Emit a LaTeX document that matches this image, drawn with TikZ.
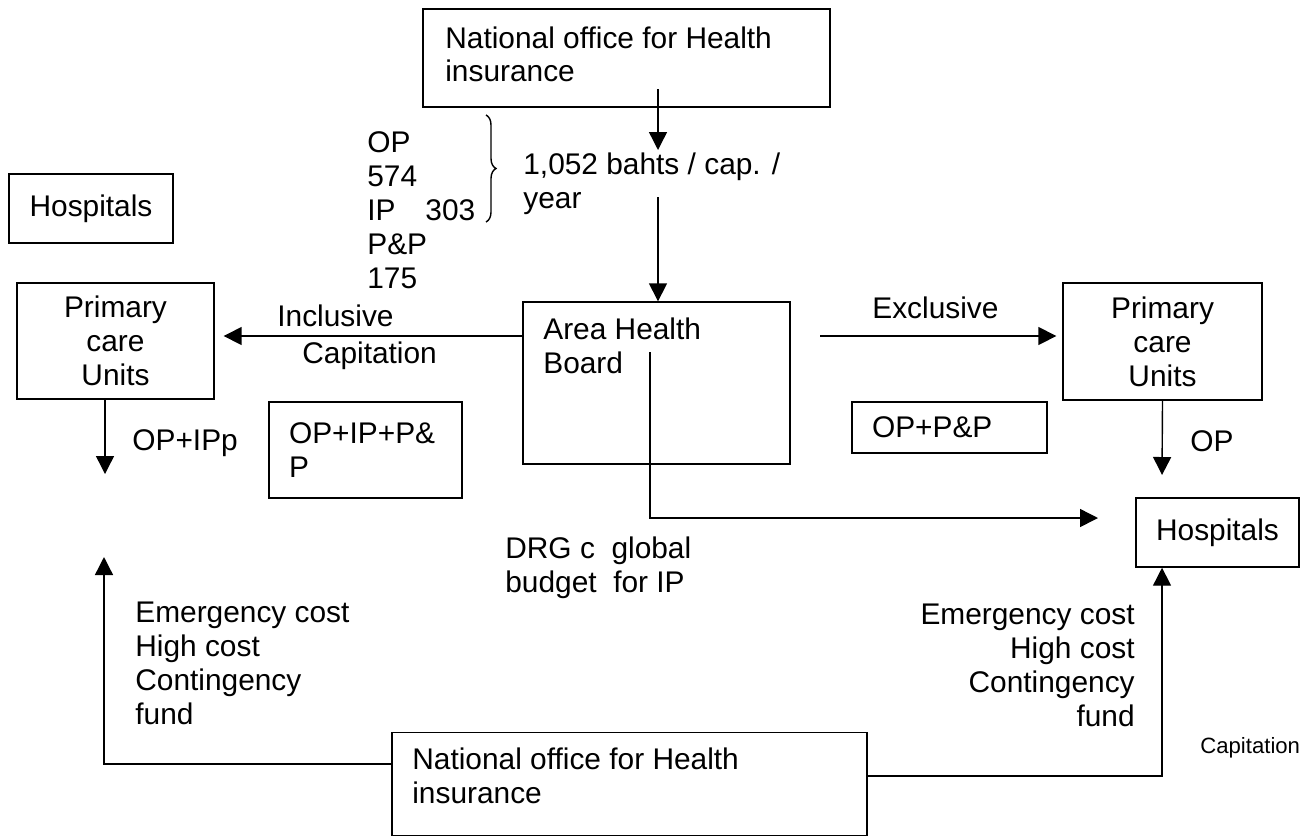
\documentclass[tikz,border=0pt]{standalone}
\usepackage{fontspec}
\setmainfont{Liberation Sans}
\usepackage{tikz}
\usetikzlibrary{arrows.meta,positioning,calc,decorations.pathreplacing}

\newcommand{\diagfont}{\fontsize{17}{19.35}\selectfont}
\newcommand{\smallfont}{\fontsize{12.6}{14.5}\selectfont}

\begin{document}
\begin{tikzpicture}[x=0.02cm, y=-0.02cm,
  box/.style={draw, line width=0.8pt, inner sep=0pt, font=\diagfont},
  txt/.style={inner sep=0pt, anchor=north west, align=left, font=\diagfont},
  flow/.style={-{Triangle[length=0.36cm, width=0.36cm]}, line width=0.8pt}]

\useasboundingbox (0,0) rectangle (1310,836);

% National office (top)
\node[box, minimum width=8.14cm, minimum height=1.96cm] (nhsoTop) at (626.5,58) {};
\node[txt] (nhsoTopText) at (445,26) {National office for Health\\insurance};

% Budget split
\node[txt] (split) at (367,131) {OP\\574\\IP\quad 303\\P\&P\\175};
\draw[line width=0.8pt, decorate, decoration={brace, amplitude=0.2cm}] (486,115) -- (486,222);
\node[txt] (rate) at (523,152) {1,052 bahts / cap. /\\year};

% Boxes
\node[box, minimum width=3.28cm, minimum height=1.38cm] (hospL) at (91,208.5) {Hospitals};
\node[box, minimum width=3.94cm, minimum height=2.32cm, align=center] (pcuL) at (115.5,341) {Primary\\care\\Units};
\node[box, minimum width=5.34cm, minimum height=3.24cm] (ahb) at (656.5,383) {};
\node[txt] (ahbText) at (543,317) {Area Health\\Board};
\node[box, minimum width=3.98cm, minimum height=2.34cm, align=center] (pcuR) at (1162.5,341.5) {Primary\\care\\Units};
\node[box, minimum width=3.86cm, minimum height=1.92cm, text width=3.06cm, align=left] (opip) at (365.5,450) {OP+IP+P\&\\P};
\node[box, minimum width=3.9cm, minimum height=1.02cm, text width=3.1cm, align=left] (oppp) at (949.5,427.5) {OP+P\&P};
\node[box, minimum width=3.26cm, minimum height=1.38cm] (hospR) at (1217.5,532.5) {Hospitals};

% National office (bottom)
\node[box, minimum width=9.5cm, minimum height=2.06cm] (nhsoBot) at (629.5,784) {};
\node[txt] (nhsoBotText) at (412,747) {National office for Health\\insurance};

% Flow from the national office to the area board
\coordinate (inA) at (658,89);
\coordinate (inB) at (658,150);
\coordinate (inC) at (658,197);
\draw[flow] (inA) -- (inB);
\draw[flow] (inC) -- (inC |- ahb.north);

% Capitation to primary care
\coordinate (exA) at (820,336);
\draw[flow, shorten >=0.18cm] (ahb.west |- exA) -- (pcuL.east |- exA);
\draw[flow, shorten >=0.12cm] (exA) -- (exA -| pcuR.west);
\node[txt] (incl) at (277,304) {Inclusive};
\node[txt] (capL) at (302,341) {Capitation};
\node[txt] (excl) at (872,296) {Exclusive};

% Down from primary care
\coordinate (opipEnd) at (105,474);
\coordinate (opEnd) at (1162,475);
\draw[flow] (opipEnd |- pcuL.south) -- (opipEnd);
\draw[flow] (pcuR.south) -- (opEnd);
\node[txt] (opipLbl) at (132,429) {OP+IPp};
\node[txt] (opLbl) at (1190,430) {OP};

% DRG to hospitals
\coordinate (drgA) at (650,352);
\coordinate (drgB) at (1098,518);
\draw[flow] (drgA) |- (drgB);
\node[txt] (drg) at (505,536) {DRG c\ \ global\\budget\ \ for IP};

% Funds from the bottom office
\coordinate (emL) at (104,557);
\draw[flow] ([yshift=0.4cm]nhsoBot.west) -| (emL);
\draw[flow] ([yshift=0.16cm]nhsoBot.east) -| ([xshift=-1.11cm]hospR.south);
\node[txt] (fundL) at (135,602) {Emergency cost\\High cost\\Contingency\\fund};
\node[txt, anchor=north east, align=right] (fundR) at (1135,604) {Emergency cost\\High cost\\Contingency\\fund};
\node[txt, font=\smallfont] (capR) at (1200,737) {Capitation};

\end{tikzpicture}
\end{document}
